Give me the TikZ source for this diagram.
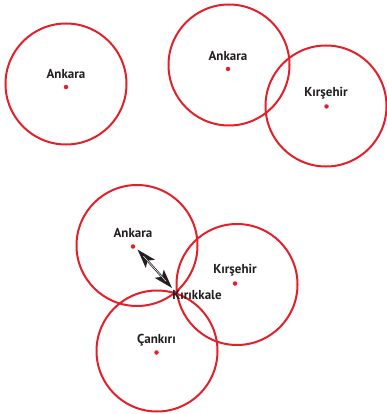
\documentclass[tikz,border=0pt]{standalone}
\usepackage{fontspec}
\setmainfont{PT Sans}
\usetikzlibrary{arrows.meta}
\definecolor{cred}{HTML}{E3202A}
\definecolor{ctext}{HTML}{231F20}
\tikzset{
  ring/.style={circle, draw=cred, line width=2pt, minimum size=121pt, inner sep=0pt},
  citydot/.style={circle, fill=cred, minimum size=4.5pt, inner sep=0pt},
  city/.style={text=ctext, font=\fontsize{13}{15}\selectfont\bfseries, inner sep=0pt}
}
\begin{document}
\begin{tikzpicture}[x=1pt,y=-1pt]
\useasboundingbox (0,0) rectangle (386,414);
% top left
\node[ring] (r1) at (66,84) {};
\node[citydot] (d1) at (66,87) {};
\node[city] (l1) at (66,74) {Ankara};
% top right
\node[ring] (r2) at (229,65) {};
\node[citydot] (d2) at (228,69) {};
\node[city] (l2) at (228,56) {Ankara};
\node[ring] (r3) at (326,106) {};
\node[citydot] (d3) at (326.5,106.5) {};
\node[city] (l3) at (326,93) {Kırşehir};
% bottom
\node[ring] (r4) at (137,245.5) {};
\node[citydot] (d4) at (133,246.5) {};
\node[city] (l4) at (133,233) {Ankara};
\node[ring] (r5) at (237,284.5) {};
\node[citydot] (d5) at (235,283.5) {};
\node[city] (l5) at (235,270.5) {Kırşehir};
\node[ring] (r6) at (157,351) {};
\node[citydot] (d6) at (156.5,352.5) {};
\node[city] (l6) at (156.5,340) {Çankırı};
\node[city] (l7) at (197,295) {Kırıkkale};
\coordinate (a1) at (137.5,249.5);
\coordinate (a2) at (172,288);
\draw[ctext, line width=2pt,
  {Stealth[length=19pt,width=12pt,inset=4pt]}-{Stealth[length=19pt,width=12pt,inset=4pt]}] (a1) -- (a2);
\draw[white, line width=0.5pt, shorten <=9pt, shorten >=9pt] (a1) -- (a2);
\end{tikzpicture}
\end{document}
